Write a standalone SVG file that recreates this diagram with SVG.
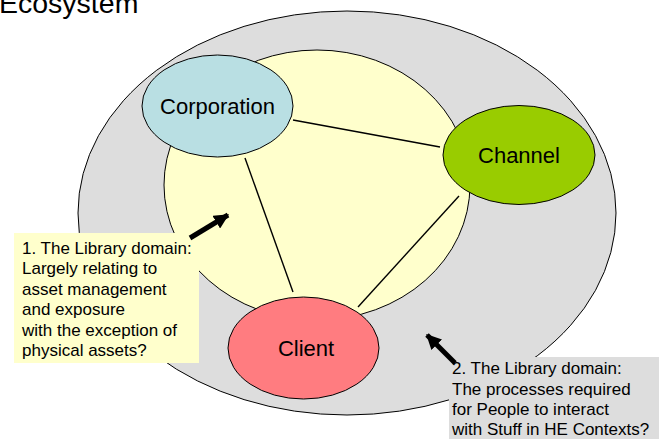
<svg xmlns="http://www.w3.org/2000/svg" width="670" height="439" viewBox="0 0 670 439">
  <defs>
    <marker id="head" viewBox="0 0 12 12" refX="11" refY="6" markerWidth="15" markerHeight="15" markerUnits="userSpaceOnUse" orient="auto">
      <path d="M0,0 L12,6 L0,12 Z" fill="#000"/>
    </marker>
    <style>
      text { font-family: "Liberation Sans", Arial, sans-serif; fill: #000; }
      .node { stroke: #000; stroke-width: 1; }
      .label { font-size: 22px; text-anchor: middle; }
      .note { font-size: 17px; }
      .link { stroke: #000; stroke-width: 1.4; fill: none; }
      .pointer { stroke: #000; stroke-width: 5; fill: none; marker-end: url(#head); }
    </style>
  </defs>

  <rect width="670" height="439" fill="#fff"/>

  <!-- title -->
  <text x="-1" y="13" font-size="28.5">Ecosystem</text>

  <!-- outer ring -->
  <g id="ecosystem">
    <ellipse cx="347" cy="213" rx="269" ry="202" fill="#DDDDDD" class="node"/>
  </g>

  <!-- inner domain -->
  <g id="library-domain">
    <ellipse cx="317" cy="185" rx="153" ry="135" fill="#FFFFCC" class="node"/>
  </g>

  <!-- connectors -->
  <g id="connectors">
    <line class="link" x1="293" y1="120" x2="440" y2="147"/>
    <line class="link" x1="245" y1="158" x2="293" y2="292"/>
    <line class="link" x1="459" y1="196" x2="358" y2="307"/>
  </g>

  <g id="corporation">
    <ellipse cx="217.5" cy="106" rx="75.5" ry="51" fill="#B9DFE3" class="node"/>
    <text class="label" x="217.5" y="114">Corporation</text>
  </g>

  <g id="channel">
    <ellipse cx="519" cy="155" rx="76" ry="49.5" fill="#99CC00" class="node"/>
    <text class="label" x="519" y="163">Channel</text>
  </g>

  <g id="client">
    <ellipse cx="303.5" cy="348" rx="75.5" ry="51" fill="#FF7C80" class="node"/>
    <text class="label" x="306" y="356">Client</text>
  </g>

  <!-- note 1 -->
  <g id="note-1">
    <rect x="14" y="233" width="185" height="130" fill="#FFFFCC"/>
    <text class="note" x="22" y="253.5">1. The Library domain:</text>
    <text class="note" x="22" y="274">Largely relating to</text>
    <text class="note" x="22" y="294.5">asset management</text>
    <text class="note" x="22" y="315">and exposure</text>
    <text class="note" x="22" y="335.5">with the exception of</text>
    <text class="note" x="22" y="356">physical assets?</text>
    <line class="pointer" x1="190" y1="238" x2="228" y2="215"/>
  </g>

  <!-- note 2 -->
  <g id="note-2">
    <rect x="449" y="357" width="210" height="90" fill="#DDDDDD"/>
    <text class="note" x="452" y="373.5">2. The Library domain:</text>
    <text class="note" x="452" y="394.5">The processes required</text>
    <text class="note" x="452" y="414.5">for People to interact</text>
    <text class="note" x="452" y="435">with Stuff in HE Contexts?</text>
    <line class="pointer" x1="455" y1="363" x2="427" y2="335"/>
  </g>
</svg>
